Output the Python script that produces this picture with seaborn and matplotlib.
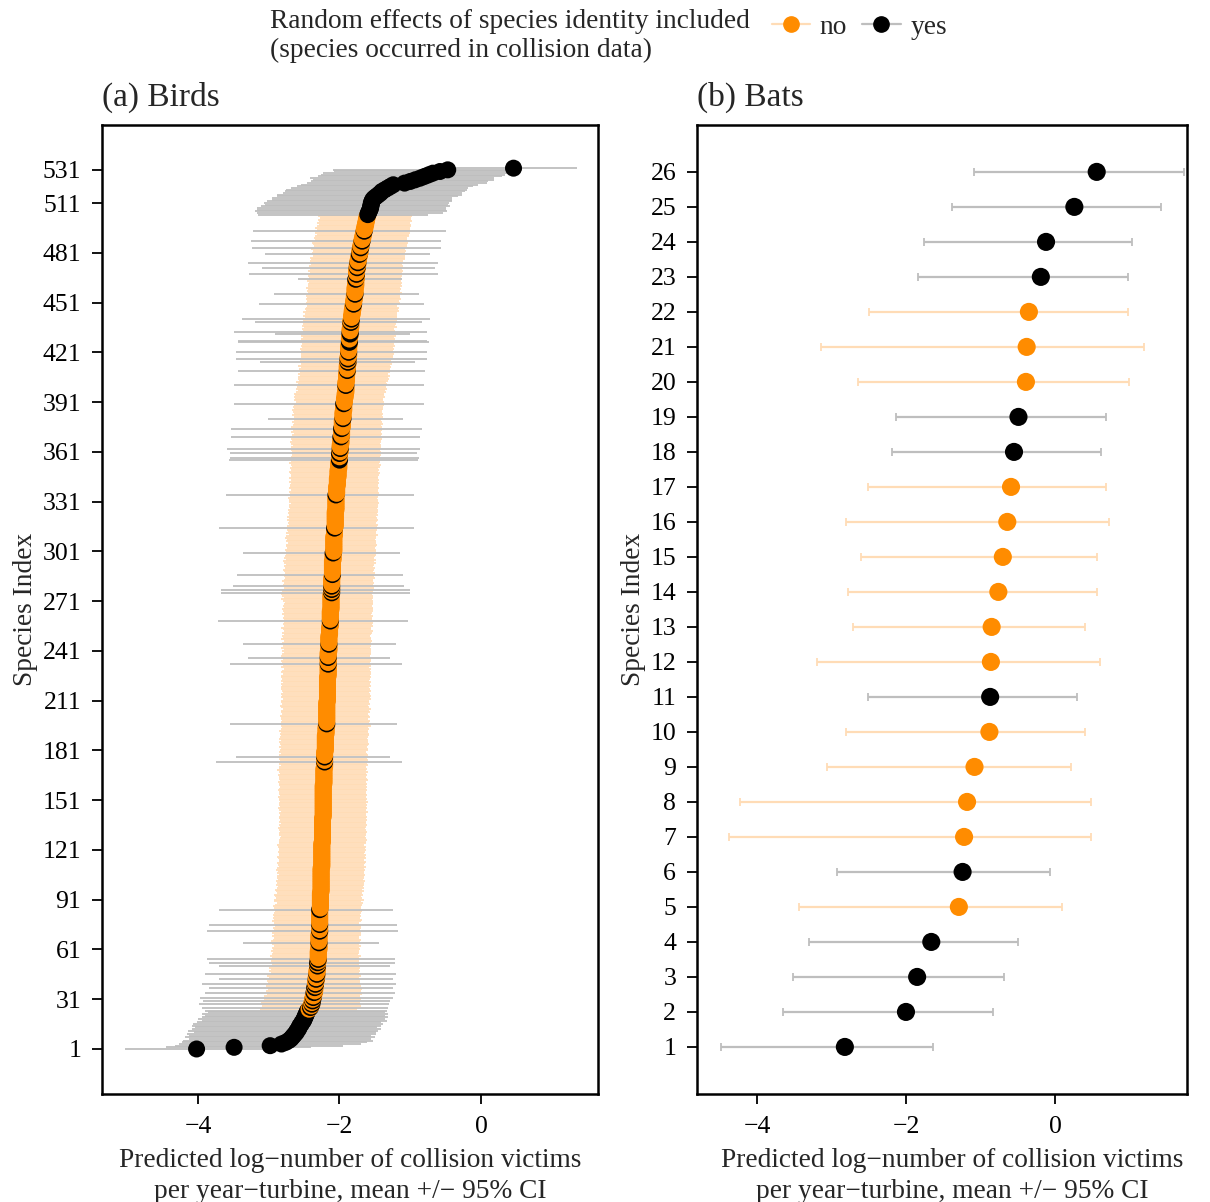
import numpy as np
import pandas as pd
import matplotlib
matplotlib.use("Agg")
import matplotlib.pyplot as plt
import seaborn as sns
from matplotlib.lines import Line2D

sns.set_theme(style="ticks")
plt.rcParams["font.family"] = ["Liberation Serif", "DejaVu Serif"]
plt.rcParams["axes.unicode_minus"] = True

ORANGE = "#FF8C00"
ORANGE_CI = "#FFDCB6"
GREY_CI = "#BEBEBE"

# ---------------- Birds: predicted mean per species (sorted) ----------------
bird_mean = [
    -4.02, -3.49, -2.98, -2.82, -2.76, -2.72, -2.69, -2.67, -2.65, -2.63,
    -2.61, -2.60, -2.58, -2.57, -2.56, -2.54, -2.53, -2.51, -2.50, -2.49,
    -2.48, -2.47, -2.46, -2.45, -2.43, -2.41, -2.40, -2.39, -2.39, -2.38,
    -2.38, -2.37, -2.37, -2.36, -2.36, -2.35, -2.35, -2.35, -2.34, -2.34,
    -2.34, -2.33, -2.33, -2.33, -2.32, -2.32, -2.32, -2.32, -2.31, -2.31,
    -2.31, -2.31, -2.31, -2.30, -2.30, -2.30, -2.30, -2.30, -2.30, -2.30,
    -2.29, -2.29, -2.29, -2.29, -2.29, -2.29, -2.29, -2.29, -2.29, -2.29,
    -2.28, -2.28, -2.28, -2.28, -2.28, -2.28, -2.28, -2.28, -2.28, -2.28,
    -2.28, -2.28, -2.28, -2.28, -2.28, -2.27, -2.27, -2.27, -2.27, -2.27,
    -2.27, -2.27, -2.27, -2.27, -2.27, -2.26, -2.26, -2.26, -2.26, -2.26,
    -2.26, -2.26, -2.26, -2.26, -2.26, -2.26, -2.26, -2.26, -2.26, -2.26,
    -2.25, -2.25, -2.25, -2.25, -2.25, -2.25, -2.25, -2.25, -2.25, -2.25,
    -2.25, -2.25, -2.25, -2.25, -2.25, -2.24, -2.24, -2.24, -2.24, -2.24,
    -2.24, -2.24, -2.24, -2.24, -2.24, -2.24, -2.24, -2.24, -2.24, -2.24,
    -2.23, -2.23, -2.23, -2.23, -2.23, -2.23, -2.23, -2.23, -2.23, -2.23,
    -2.23, -2.23, -2.23, -2.23, -2.23, -2.23, -2.23, -2.23, -2.23, -2.23,
    -2.22, -2.22, -2.22, -2.22, -2.22, -2.22, -2.22, -2.22, -2.22, -2.22,
    -2.21, -2.21, -2.21, -2.21, -2.21, -2.21, -2.21, -2.21, -2.21, -2.21,
    -2.20, -2.20, -2.20, -2.20, -2.20, -2.20, -2.20, -2.20, -2.20, -2.20,
    -2.19, -2.19, -2.19, -2.19, -2.19, -2.18, -2.18, -2.18, -2.18, -2.18,
    -2.18, -2.18, -2.18, -2.18, -2.18, -2.18, -2.18, -2.18, -2.18, -2.18,
    -2.17, -2.17, -2.17, -2.17, -2.17, -2.17, -2.17, -2.17, -2.17, -2.17,
    -2.17, -2.17, -2.17, -2.17, -2.17, -2.16, -2.16, -2.16, -2.16, -2.16,
    -2.16, -2.16, -2.16, -2.16, -2.16, -2.16, -2.16, -2.16, -2.16, -2.16,
    -2.15, -2.15, -2.15, -2.15, -2.15, -2.15, -2.15, -2.15, -2.15, -2.15,
    -2.14, -2.14, -2.14, -2.14, -2.14, -2.13, -2.13, -2.13, -2.13, -2.13,
    -2.13, -2.13, -2.13, -2.13, -2.13, -2.12, -2.12, -2.12, -2.12, -2.12,
    -2.12, -2.12, -2.12, -2.12, -2.12, -2.11, -2.11, -2.11, -2.11, -2.11,
    -2.11, -2.11, -2.11, -2.11, -2.11, -2.10, -2.10, -2.10, -2.10, -2.10,
    -2.10, -2.10, -2.10, -2.10, -2.10, -2.09, -2.09, -2.09, -2.09, -2.09,
    -2.08, -2.08, -2.08, -2.08, -2.08, -2.08, -2.08, -2.08, -2.08, -2.08,
    -2.07, -2.07, -2.07, -2.07, -2.07, -2.06, -2.06, -2.06, -2.06, -2.06,
    -2.06, -2.06, -2.06, -2.06, -2.06, -2.05, -2.05, -2.05, -2.05, -2.05,
    -2.05, -2.05, -2.05, -2.05, -2.05, -2.04, -2.04, -2.04, -2.04, -2.04,
    -2.03, -2.03, -2.03, -2.03, -2.03, -2.02, -2.02, -2.02, -2.02, -2.02,
    -2.01, -2.01, -2.01, -2.01, -2.01, -2.00, -2.00, -2.00, -2.00, -2.00,
    -1.99, -1.99, -1.99, -1.99, -1.99, -1.98, -1.98, -1.98, -1.98, -1.98,
    -1.97, -1.97, -1.97, -1.97, -1.97, -1.96, -1.96, -1.96, -1.96, -1.96,
    -1.95, -1.95, -1.95, -1.95, -1.95, -1.94, -1.94, -1.94, -1.94, -1.94,
    -1.93, -1.93, -1.93, -1.92, -1.92, -1.92, -1.91, -1.91, -1.91, -1.91,
    -1.91, -1.91, -1.91, -1.90, -1.90, -1.90, -1.90, -1.90, -1.89, -1.89,
    -1.89, -1.89, -1.89, -1.88, -1.88, -1.88, -1.88, -1.88, -1.87, -1.87,
    -1.87, -1.87, -1.87, -1.87, -1.87, -1.86, -1.86, -1.86, -1.86, -1.86,
    -1.85, -1.85, -1.85, -1.85, -1.85, -1.84, -1.84, -1.84, -1.84, -1.84,
    -1.83, -1.83, -1.83, -1.82, -1.82, -1.82, -1.81, -1.81, -1.81, -1.80,
    -1.80, -1.80, -1.79, -1.79, -1.79, -1.78, -1.78, -1.78, -1.78, -1.78,
    -1.77, -1.77, -1.77, -1.77, -1.77, -1.76, -1.76, -1.76, -1.76, -1.76,
    -1.75, -1.75, -1.75, -1.74, -1.74, -1.74, -1.73, -1.73, -1.72, -1.72,
    -1.71, -1.71, -1.71, -1.70, -1.70, -1.69, -1.69, -1.68, -1.68, -1.67,
    -1.67, -1.66, -1.66, -1.65, -1.65, -1.64, -1.64, -1.63, -1.63, -1.62,
    -1.62, -1.61, -1.61, -1.60, -1.59, -1.58, -1.57, -1.56, -1.56, -1.55,
    -1.55, -1.54, -1.53, -1.51, -1.48, -1.45, -1.42, -1.40, -1.36, -1.32,
    -1.28, -1.24, -1.08, -1.00, -0.93, -0.86, -0.80, -0.74, -0.68, -0.58,
    -0.47, 0.46,
]

# distance from the mean down to the lower 95% CI bound
bird_ci_below = [
    1.01, 0.96, 1.35, 1.45, 1.47, 1.49, 1.44, 1.51, 1.48, 1.52,
    1.45, 1.54, 1.50, 1.47, 1.53, 1.53, 1.49, 1.44, 1.50, 1.46,
    1.42, 1.48, 1.40, 1.45, 0.70, 1.54, 0.69, 1.60, 0.72, 1.55,
    0.68, 1.60, 0.70, 0.67, 1.54, 0.69, 0.66, 1.50, 0.70, 1.61,
    0.67, 0.69, 1.37, 0.66, 0.70, 1.58, 0.65, 0.68, 0.66, 0.69,
    1.39, 0.64, 1.54, 0.67, 1.57, 0.65, 0.68, 0.66, 0.64, 0.67,
    0.65, 0.67, 0.64, 0.66, 1.07, 0.68, 0.65, 0.63, 0.66, 0.64,
    0.67, 1.59, 0.65, 0.66, 0.63, 1.56, 0.65, 0.67, 0.64, 0.66,
    0.64, 0.66, 0.65, 0.63, 1.42, 0.65, 0.67, 0.64, 0.62, 0.65,
    0.66, 0.63, 0.64, 0.66, 0.62, 0.64, 0.65, 0.63, 0.61, 0.64,
    0.62, 0.64, 0.61, 0.63, 0.62, 0.60, 0.63, 0.61, 0.64, 0.62,
    0.60, 0.62, 0.63, 0.61, 0.60, 0.62, 0.64, 0.61, 0.60, 0.62,
    0.61, 0.60, 0.62, 0.63, 0.60, 0.61, 0.62, 0.60, 0.59, 0.61,
    0.62, 0.60, 0.61, 0.63, 0.60, 0.61, 0.59, 0.62, 0.60, 0.61,
    0.62, 0.61, 0.63, 0.60, 0.62, 0.64, 0.61, 0.62, 0.63, 0.61,
    0.63, 0.62, 0.64, 0.61, 0.63, 0.62, 0.64, 0.63, 0.61, 0.63,
    0.63, 0.65, 0.62, 0.64, 0.63, 0.65, 0.62, 0.64, 0.66, 0.63,
    0.64, 0.62, 0.65, 1.54, 0.63, 0.65, 1.25, 0.64, 0.62, 0.65,
    0.64, 0.63, 0.65, 0.62, 0.64, 0.66, 0.63, 0.65, 0.64, 0.62,
    0.65, 0.63, 0.66, 0.64, 0.62, 0.65, 1.37, 0.64, 0.63, 0.65,
    0.64, 0.66, 0.63, 0.65, 0.64, 0.62, 0.65, 0.66, 0.63, 0.64,
    0.65, 0.63, 0.66, 0.64, 0.65, 0.63, 0.64, 0.66, 0.65, 0.64,
    0.65, 0.63, 0.66, 0.64, 0.65, 0.67, 0.64, 0.66, 0.65, 0.63,
    0.66, 0.64, 1.39, 0.65, 0.67, 0.64, 1.14, 0.66, 0.65, 0.63,
    0.66, 0.64, 0.67, 0.65, 1.22, 0.66, 0.64, 0.67, 0.65, 0.66,
    0.64, 0.67, 0.65, 0.66, 0.68, 0.65, 0.67, 0.66, 1.59, 0.65,
    0.67, 0.65, 0.68, 0.66, 0.67, 0.69, 0.66, 0.68, 0.67, 0.65,
    0.68, 0.70, 0.67, 0.69, 0.71, 1.57, 0.70, 1.57, 0.68, 1.39,
    0.69, 0.67, 0.70, 0.68, 0.66, 0.69, 1.35, 0.67, 0.68, 0.70,
    0.67, 0.69, 0.66, 0.68, 0.70, 0.67, 0.69, 0.68, 0.66, 1.28,
    0.67, 0.69, 0.66, 0.68, 0.67, 0.65, 0.68, 0.66, 0.69, 0.67,
    0.65, 0.68, 0.66, 0.67, 1.63, 0.68, 0.66, 0.67, 0.65, 0.68,
    0.66, 0.68, 0.65, 0.67, 0.66, 0.68, 0.65, 0.67, 0.66, 0.64,
    0.67, 0.66, 0.68, 0.65, 1.55, 0.66, 0.67, 0.65, 0.68, 0.66,
    0.67, 0.65, 0.68, 0.66, 0.69, 0.67, 0.66, 0.68, 0.70, 0.67,
    0.69, 0.66, 0.68, 0.70, 0.67, 1.56, 1.55, 0.69, 0.67, 1.55,
    0.68, 0.70, 1.60, 0.69, 0.67, 0.70, 0.72, 0.69, 0.71, 1.56,
    0.70, 0.68, 0.71, 0.69, 1.57, 0.72, 0.70, 0.68, 0.71, 0.69,
    1.06, 0.70, 0.72, 0.69, 0.71, 0.73, 0.70, 0.72, 0.71, 1.55,
    0.69, 0.72, 0.70, 0.73, 0.71, 0.72, 0.70, 0.68, 0.71, 0.69,
    1.58, 0.68, 0.70, 0.67, 0.69, 0.68, 0.66, 0.69, 0.67, 1.54,
    0.68, 0.66, 0.69, 0.67, 1.24, 0.68, 1.58, 0.66, 0.68, 0.67,
    1.59, 0.67, 0.69, 0.66, 0.68, 0.67, 1.57, 1.57, 0.68, 0.66,
    0.69, 1.06, 1.64, 0.67, 0.68, 0.66, 0.69, 0.67, 1.35, 0.68,
    1.55, 0.66, 0.68, 0.67, 0.69, 0.66, 0.68, 0.67, 0.65, 1.34,
    0.68, 0.66, 0.69, 0.67, 0.68, 1.15, 0.66, 0.68, 0.67, 0.69,
    0.67, 0.68, 0.66, 0.69, 0.82, 0.67, 0.68, 1.52, 0.66, 0.69,
    0.67, 1.35, 0.68, 0.66, 1.55, 0.68, 0.67, 0.69, 0.66, 1.33,
    0.68, 0.67, 0.69, 1.53, 0.66, 0.68, 0.70, 1.57, 0.67, 0.69,
    0.68, 0.66, 0.69, 1.57, 0.67, 0.70, 0.68, 0.66, 0.69, 0.67,
    0.68, 0.66, 0.69, 1.55, 1.58, 1.62, 1.60, 1.61, 1.55, 1.50,
    1.52, 1.48, 1.42, 1.44, 1.40, 1.43, 1.38, 1.37, 1.40, 1.36,
    1.32, 1.30, 1.38, 1.40, 1.45, 1.56, 1.50, 1.52, 1.55, 1.50,
    1.62, 0.95,
]

# distance from the mean up to the upper 95% CI bound
bird_ci_above = [
    1.07, 1.09, 1.03, 1.12, 1.15, 1.19, 1.14, 1.17, 1.10, 1.15,
    1.12, 1.15, 1.16, 1.10, 1.14, 1.16, 1.12, 1.18, 1.15, 1.18,
    1.13, 1.16, 1.10, 1.12, 0.68, 1.09, 0.70, 1.09, 0.68, 1.10,
    0.69, 1.12, 0.66, 0.68, 1.14, 0.65, 0.67, 1.10, 0.64, 1.14,
    0.63, 0.62, 1.08, 0.60, 0.62, 1.12, 0.59, 0.61, 0.58, 0.60,
    1.02, 0.59, 1.09, 0.57, 1.08, 0.58, 0.60, 0.56, 0.58, 0.57,
    0.58, 0.56, 0.59, 0.57, 0.85, 0.58, 0.60, 0.57, 0.56, 0.59,
    0.58, 1.11, 0.57, 0.59, 0.58, 1.09, 0.56, 0.58, 0.60, 0.57,
    0.58, 0.57, 0.59, 0.60, 1.04, 0.58, 0.57, 0.59, 0.60, 0.58,
    0.61, 0.59, 0.58, 0.60, 0.59, 0.61, 0.58, 0.60, 0.59, 0.61,
    0.60, 0.62, 0.59, 0.61, 0.60, 0.62, 0.61, 0.60, 0.62, 0.61,
    0.63, 0.60, 0.61, 0.62, 0.60, 0.63, 0.61, 0.62, 0.60, 0.61,
    0.62, 0.61, 0.63, 0.60, 0.62, 0.61, 0.63, 0.62, 0.60, 0.62,
    0.61, 0.63, 0.62, 0.60, 0.62, 0.63, 0.61, 0.62, 0.63, 0.61,
    0.62, 0.60, 0.61, 0.63, 0.61, 0.62, 0.60, 0.62, 0.61, 0.63,
    0.60, 0.62, 0.61, 0.62, 0.60, 0.61, 0.62, 0.60, 0.62, 0.61,
    0.61, 0.60, 0.62, 0.61, 0.59, 0.61, 0.60, 0.62, 0.60, 0.61,
    0.59, 0.61, 0.60, 1.09, 0.62, 0.60, 0.93, 0.61, 0.60, 0.59,
    0.60, 0.61, 0.59, 0.60, 0.62, 0.60, 0.61, 0.59, 0.60, 0.62,
    0.61, 0.60, 0.59, 0.61, 0.60, 0.62, 0.99, 0.60, 0.61, 0.59,
    0.61, 0.60, 0.59, 0.61, 0.60, 0.62, 0.60, 0.59, 0.61, 0.60,
    0.59, 0.61, 0.60, 0.62, 0.60, 0.59, 0.61, 0.60, 0.59, 0.61,
    0.60, 0.61, 0.59, 0.60, 0.62, 0.59, 0.60, 0.61, 0.59, 0.60,
    0.58, 0.60, 1.04, 0.59, 0.61, 0.60, 0.88, 0.59, 0.60, 0.61,
    0.59, 0.60, 0.58, 0.60, 0.95, 0.59, 0.61, 0.59, 0.60, 0.58,
    0.59, 0.60, 0.61, 0.59, 0.58, 0.60, 0.59, 0.61, 1.10, 0.59,
    0.59, 0.60, 0.58, 0.59, 0.61, 0.59, 0.60, 0.58, 0.59, 0.60,
    0.59, 0.58, 0.60, 0.59, 0.58, 1.11, 0.59, 1.11, 0.60, 1.02,
    0.59, 0.60, 0.58, 0.59, 0.61, 0.59, 1.00, 0.60, 0.58, 0.59,
    0.60, 0.58, 0.59, 0.61, 0.59, 0.60, 0.58, 0.59, 0.60, 0.94,
    0.59, 0.60, 0.58, 0.59, 0.61, 0.59, 0.60, 0.58, 0.59, 0.60,
    0.61, 0.59, 0.58, 0.60, 1.13, 0.59, 0.60, 0.58, 0.59, 0.61,
    0.59, 0.58, 0.60, 0.59, 0.61, 0.59, 0.58, 0.60, 0.59, 0.61,
    0.59, 0.60, 0.58, 0.59, 1.11, 0.60, 0.59, 0.58, 0.60, 0.59,
    0.58, 0.59, 0.57, 0.59, 0.58, 0.56, 0.58, 0.59, 0.57, 0.58,
    0.56, 0.58, 0.59, 0.57, 0.58, 1.11, 1.12, 0.57, 0.58, 1.10,
    0.57, 0.56, 1.13, 0.58, 0.57, 0.55, 0.57, 0.56, 0.58, 1.12,
    0.56, 0.57, 0.55, 0.57, 1.13, 0.56, 0.55, 0.57, 0.56, 0.55,
    0.85, 0.56, 0.55, 0.57, 0.55, 0.54, 0.56, 0.55, 0.57, 1.13,
    0.56, 0.55, 0.54, 0.56, 0.55, 0.55, 0.57, 0.56, 0.58, 0.57,
    1.11, 0.58, 0.57, 0.59, 0.60, 0.58, 0.61, 0.59, 0.60, 1.10,
    0.61, 0.62, 0.60, 0.62, 0.95, 0.61, 1.12, 0.63, 0.62, 0.64,
    1.11, 0.63, 0.64, 0.62, 0.65, 0.63, 1.12, 1.10, 0.64, 0.63,
    0.65, 0.85, 1.08, 0.64, 0.62, 0.65, 0.63, 0.64, 1.01, 0.65,
    1.11, 0.64, 0.65, 0.63, 0.64, 0.66, 0.64, 0.65, 0.63, 0.99,
    0.65, 0.64, 0.66, 0.64, 0.65, 0.90, 0.66, 0.64, 0.65, 0.63,
    0.65, 0.64, 0.66, 0.64, 0.65, 0.63, 0.65, 1.15, 0.64, 0.66,
    0.64, 1.10, 0.65, 0.63, 1.13, 0.64, 0.66, 0.65, 0.64, 1.00,
    0.64, 0.65, 0.63, 1.13, 0.65, 0.64, 0.66, 1.11, 0.64, 0.63,
    0.65, 0.64, 0.66, 1.16, 0.64, 0.63, 0.65, 0.64, 0.62, 0.64,
    0.63, 0.62, 0.64, 0.85, 1.05, 1.10, 1.08, 1.07, 1.12, 1.08,
    1.10, 1.13, 1.12, 1.10, 1.15, 1.18, 1.15, 1.17, 1.16, 1.14,
    1.17, 1.20, 1.16, 1.10, 1.12, 1.05, 1.10, 1.08, 1.15, 1.10,
    1.05, 0.90,
]

# species (by index) whose random effect is included (occurred in collision data)
bird_species_in_data = [
    1, 2, 3, 4, 5, 6, 7, 8, 9, 10, 11, 12, 13, 14, 15, 16, 17, 18, 19, 20,
    21, 22, 23, 24, 26, 28, 30, 32, 35, 38, 40, 43, 46, 51, 53, 55, 65, 72,
    76, 85, 174, 177, 197, 233, 237, 245, 259, 276, 278, 280, 287, 300, 315,
    335, 356, 357, 360, 363, 370, 375, 381, 390, 401, 410, 415, 417, 421, 427,
    428, 432, 433, 439, 441, 450, 456, 465, 468, 472, 475, 480, 484, 488, 494,
    504, 505, 506, 507, 508, 509, 510, 511, 512, 513, 514, 515, 516, 517, 518,
    519, 520, 521, 522, 523, 524, 525, 526, 527, 528, 529, 530, 531, 532,
]
bird_yticks = [1, 31, 61, 91, 121, 151, 181, 211, 241, 271, 301, 331, 361,
               391, 421, 451, 481, 511, 531]

# ---------------- Bats ----------------
bat_mean = [-2.82, -2.00, -1.85, -1.66, -1.29, -1.24, -1.22, -1.18, -1.08, -0.88,
            -0.87, -0.86, -0.85, -0.76, -0.70, -0.64, -0.59, -0.55, -0.49, -0.39,
            -0.38, -0.35, -0.19, -0.12, 0.26, 0.56]
bat_lo = [-4.48, -3.65, -3.51, -3.30, -3.43, -2.93, -4.38, -4.23, -3.06, -2.80,
          -2.51, -3.20, -2.71, -2.78, -2.61, -2.81, -2.51, -2.19, -2.13, -2.64,
          -3.14, -2.49, -1.84, -1.76, -1.38, -1.09]
bat_hi = [-1.64, -0.83, -0.68, -0.49, 0.10, -0.07, 0.48, 0.49, 0.22, 0.40,
          0.29, 0.60, 0.40, 0.57, 0.56, 0.73, 0.68, 0.62, 0.68, 1.00,
          1.19, 0.98, 0.98, 1.04, 1.42, 1.73]
bat_in_data = ["yes", "yes", "yes", "yes", "no", "yes", "no", "no", "no", "no",
               "yes", "no", "no", "no", "no", "no", "no", "yes", "yes", "no",
               "no", "no", "yes", "yes", "yes", "yes"]

assert len(bird_mean) == len(bird_ci_below) == len(bird_ci_above)

birds = pd.DataFrame({"mean": bird_mean, "below": bird_ci_below, "above": bird_ci_above})
birds["species"] = np.arange(1, len(birds) + 1)
birds["re"] = np.where(birds["species"].isin(bird_species_in_data), "yes", "no")
birds["lo"] = birds["mean"] - birds["below"]
birds["hi"] = birds["mean"] + birds["above"]

bats = pd.DataFrame({"mean": bat_mean, "lo": bat_lo, "hi": bat_hi, "re": bat_in_data})
bats["species"] = np.arange(1, len(bats) + 1)

palette = {"no": ORANGE, "yes": "black"}
ci_colors = {"no": ORANGE_CI, "yes": GREY_CI}

fig = plt.figure(figsize=(12.1, 12.02), dpi=100)
ax_b = fig.add_axes([0.0843, 0.0899, 0.4099, 0.8062])
ax_t = fig.add_axes([0.5760, 0.0899, 0.4050, 0.8062])

# Birds: confidence intervals as horizontal segments, then the means
for grp, z in (("no", 1), ("yes", 2)):
    sub = birds[birds["re"] == grp]
    ax_b.hlines(sub["species"], sub["lo"], sub["hi"], color=ci_colors[grp],
                lw=1.3, zorder=z)
sns.scatterplot(data=birds, x="mean", y="species", hue="re", palette=palette,
                s=150, linewidth=0, legend=False, ax=ax_b, zorder=3)
ax_b.set_xlim(-5.357, 1.654)
ax_b.set_ylim(-26.1, 558.1)
ax_b.set_yticks(bird_yticks)

# Bats: error bars with caps
for grp in ("no", "yes"):
    sub = bats[bats["re"] == grp]
    ax_t.errorbar(sub["mean"], sub["species"],
                  xerr=[sub["mean"] - sub["lo"], sub["hi"] - sub["mean"]],
                  fmt="none", ecolor=ci_colors[grp], elinewidth=1.6,
                  capsize=3, capthick=1.3, zorder=1)
sns.scatterplot(data=bats, x="mean", y="species", hue="re", palette=palette,
                s=170, linewidth=0, legend=False, ax=ax_t, zorder=3)
ax_t.set_xlim(-4.805, 1.772)
ax_t.set_ylim(-0.343, 27.343)
ax_t.set_yticks(bats["species"])

xlabel = "Predicted log\u2212number of collision victims\nper year\u2212turbine, mean +/\u2212 95% CI"
for ax, title in ((ax_b, "(a) Birds"), (ax_t, "(b) Bats")):
    ax.set_xticks([-4, -2, 0])
    ax.set_xlabel(xlabel, fontsize=19.7, linespacing=1.3, labelpad=7)
    ax.set_ylabel("Species Index", fontsize=19.7, labelpad=3)
    ax.set_title(title, loc="left", fontsize=24, pad=14)
    ax.tick_params(axis="both", direction="out", length=7, width=1.3,
                   labelsize=18.5, color="black", labelcolor="black")
    ax.tick_params(axis="x", pad=9)
    ax.tick_params(axis="y", pad=8)
    for sp in ax.spines.values():
        sp.set_visible(True)
        sp.set_linewidth(1.8)
        sp.set_color("black")
    ax.grid(False)

# the bats x-label sits slightly right of the panel centre
fig.canvas.draw()
bx, by = ax_t.xaxis.label.get_position()
ax_t.xaxis.set_label_coords(0.52, ax_t.transAxes.inverted().transform(
    ax_t.xaxis.label.get_window_extent().get_points()[1])[1], transform=ax_t.transAxes)
ax_t.xaxis.label.set_va("top")

# Legend across the top
fig.text(270 / 1210, 1 - 9 / 1202,
         "Random effects of species identity included\n(species occurred in collision data)",
         fontsize=19.7, va="top", ha="left", linespacing=1.2)
handles = [
    Line2D([0], [0], color=ORANGE_CI, lw=1.6, marker="o", markersize=11,
           markerfacecolor=ORANGE, markeredgecolor=ORANGE),
    Line2D([0], [0], color=GREY_CI, lw=1.6, marker="o", markersize=11,
           markerfacecolor="black", markeredgecolor="black"),
]
fig.legend(handles, ["no", "yes"], ncol=2, frameon=False, fontsize=19.7,
           loc="center left", bbox_to_anchor=(772 / 1210, 1 - 27 / 1202),
           handlelength=1.4, handletextpad=0.35, columnspacing=0.55,
           borderpad=0.0, borderaxespad=0.0)

fig.savefig("out.png", dpi=100)
